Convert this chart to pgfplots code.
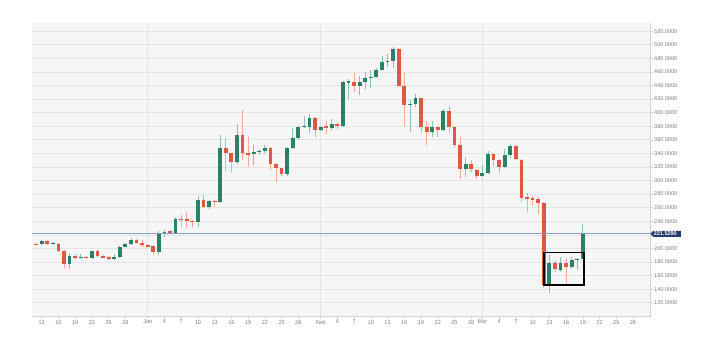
\documentclass[border=0pt]{standalone}
\usepackage{pgfplots}
\pgfplotsset{compat=1.18}
\usepackage{pgfplotstable}
\usepackage{fontspec}
\setmainfont{Liberation Sans}
\definecolor{upc}{RGB}{44,128,102}
\definecolor{dnc}{RGB}{224,88,68}
\definecolor{bgc}{RGB}{246,246,246}
\definecolor{gridc}{RGB}{229,229,232}
\definecolor{axc}{RGB}{205,212,226}
\definecolor{pricec}{RGB}{138,158,196}
\definecolor{navyc}{RGB}{38,60,104}
\definecolor{labc}{RGB}{125,125,125}
\pgfplotstableread{
d o h l c
-19 206.5 212.5 205.5 211.5
-17 206.5 209.5 205.5 208
-14 176.5 193 170 189
-12 186.5 191 184 188
-10 186 196.5 185 195.5
-6 184 192 183.5 187
-5 187 203.5 186 202.5
-4 202.5 208 201.5 206
-3 206 216 205 212.5
2 195 225.5 190 221
3 221 227.5 217 224.5
5 222.5 246 221.5 244
9 238.5 276.5 232 272
11 260.5 272 258.5 270.5
13 268 367 267 348.5
16 327 383 324 367
19 339 352.5 323 342.5
20 342 346 337 343.5
21 343 352.5 340 347.5
25 309.5 349 306.5 347.5
26 347.5 378 346 362
27 362 381 360 379.5
28 379 395 377 380.5
29 379.5 398 370 392
31 374.5 381 373 379.5
33 378 391 375 382.5
35 380 446 378.5 444.5
36 444 449.5 420 446
38 439.5 454 425.5 444.5
39 444.5 460.5 434.5 450.5
40 450.5 463 436 453
41 453 465 451.5 463
42 463 483 461 475
43 475 486.5 466.5 476.5
44 476.5 496.5 466 494
47 411.5 418.5 372 413
48 412 427 409 421
51 372 387.5 364.5 378.5
53 374.5 406 373 403
57 316.5 335 305.5 324
60 306.5 323 305 311.5
61 311.5 344 310 339
64 320.5 346 319 337.5
65 337.5 353.5 333 351
72 146 190 134.5 179
74 168.5 187.5 165 178
76 173 187 170 183
77 183 186 168.5 185
78 185 235.5 184 221.5
}\up
\pgfplotstableread{
d o h l c
-20 206.5 207.5 205 205
-18 211.5 212.5 205 206
-16 207 208 195 196
-15 196 197 171.5 176.5
-13 189 192 183 186.5
-11 187.5 188.5 185 186
-9 195.5 197 187 189
-8 189 190 185.5 187
-7 188 189 182.5 184
-2 212.5 213.5 206 208.5
-1 207.5 213 201.5 204.5
0 204.5 206 202 203
1 203.5 204.5 192 195
4 225 226.5 222 223.5
6 244 249 232 242.5
7 243 254 230 241
8 241 242.5 231.5 238.5
10 271.5 279 259 260.5
12 270.5 272 261 268
14 348.5 362 313 340
15 340 341 310.5 327
17 367 404 330 340
18 340 364 320 338.5
22 347.5 349 315.5 325
23 325 326 298 319
24 318 319 306 309.5
30 392 393 364.5 374.5
32 380 387 369 378
34 382.5 384 376 380
37 444.5 459 431 439.5
45 494 495 437.5 439.5
46 439.5 458 380 411.5
49 421 422 369.5 379.5
50 379.5 387 352.5 372
52 378.5 380 364.5 374.5
54 403 410 369.5 378.5
55 378.5 380 350 352.5
56 352.5 364 302 316.5
58 324 330 313 316.5
59 315.5 317 301.5 306.5
62 339 340 322 329.5
63 329.5 331 311.5 320.5
66 351 352 329.5 331.5
67 330.5 331.5 269 274
68 275 282 253.5 273
69 274 277 262.5 272
70 272.5 275 251 267.5
71 267.5 268.5 141 146
73 179 181 165.5 169
75 178 186 147.5 173
}\dn
\begin{document}
\begin{tikzpicture}
\useasboundingbox (0,0) rectangle (720pt,354pt);
\begin{axis}[
 at={(32pt,38pt)}, anchor=south west,
 width=618pt, height=293pt, scale only axis,
 xmin=-20.74, xmax=90.05, ymin=100.4, ymax=532,
 clip=false,
 axis background/.style={fill=bgc},
 axis line style={draw=none},
 xtick={-19,-16,-13,-10,-7,-4,0,3,6,9,12,15,18,21,24,27,31,34,37,40,43,46,49,52,55,58,60,63,66,69,72,75,78,81,84,87},
 xticklabels={13,16,19,22,25,28,Jan,4,7,10,13,16,19,22,25,28,Feb,4,7,10,13,16,19,22,25,28,Mar,4,7,10,13,16,19,22,25,28},
 ytick={120,140,...,520},
 yticklabels={120.0000,140.0000,160.0000,180.0000,200.0000,220.0000,240.0000,260.0000,280.0000,300.0000,320.0000,340.0000,360.0000,380.0000,400.0000,420.0000,440.0000,460.0000,480.0000,500.0000,520.0000},
 ymajorgrids, major grid style={draw=gridc, line width=0.6pt},
 xtick pos=left, ytick pos=right, yticklabel pos=right,
 tick align=outside, major tick length=2.5pt,
 tick style={draw=axc, line width=0.5pt},
 ticklabel style={font=\fontsize{5.5}{6}\selectfont, text=labc},
 xticklabel style={inner sep=1.5pt},
 yticklabel style={inner sep=1.5pt},
 candle/.style={draw=none, no markers, error bars/.cd, y dir=both, y explicit, error mark=none},
]
\draw[gridc, line width=0.6pt] (axis cs:0,100.4) -- (axis cs:0,532);
\draw[gridc, line width=0.6pt] (axis cs:31,100.4) -- (axis cs:31,532);
\draw[gridc, line width=0.6pt] (axis cs:60,100.4) -- (axis cs:60,532);
\draw[axc, line width=0.8pt] (axis cs:-20.74,100.4) -- (axis cs:90.05,100.4) -- (axis cs:90.05,532);
% wicks
\addplot[candle, error bar style={draw=upc!50!white, line width=0.7pt}]
  table[x=d, y expr={(\thisrow{h}+\thisrow{l})/2}, y error expr={(\thisrow{h}-\thisrow{l})/2}] {\up};
\addplot[candle, error bar style={draw=dnc!50!white, line width=0.7pt}]
  table[x=d, y expr={(\thisrow{h}+\thisrow{l})/2}, y error expr={(\thisrow{h}-\thisrow{l})/2}] {\dn};
% bodies
\addplot[candle, error bar style={draw=upc, line width=3.8pt}]
  table[x=d, y expr={(\thisrow{o}+\thisrow{c})/2}, y error expr={abs(\thisrow{c}-\thisrow{o})/2}] {\up};
\addplot[candle, error bar style={draw=dnc, line width=3.8pt}]
  table[x=d, y expr={(\thisrow{o}+\thisrow{c})/2}, y error expr={abs(\thisrow{c}-\thisrow{o})/2}] {\dn};
\draw[pricec, line width=0.8pt] (axis cs:-20.74,221.529) -- (axis cs:90.05,221.529);
\draw[black, line width=1.6pt] (axis cs:71,193.8) rectangle (axis cs:78.2,146.1);
\coordinate (pl) at (axis cs:90.05,221.529);
\end{axis}
\fill[navyc] ([xshift=0.3pt]pl) -- ++(3pt,3pt) -- ++(27.5pt,0) -- ++(0,-6pt) -- ++(-27.5pt,0) -- cycle;
\node[anchor=west, text=white, font=\fontsize{5.5}{6}\selectfont\bfseries, inner sep=0pt] at ([xshift=3.6pt]pl) {221.5290};
\end{tikzpicture}
\end{document}
